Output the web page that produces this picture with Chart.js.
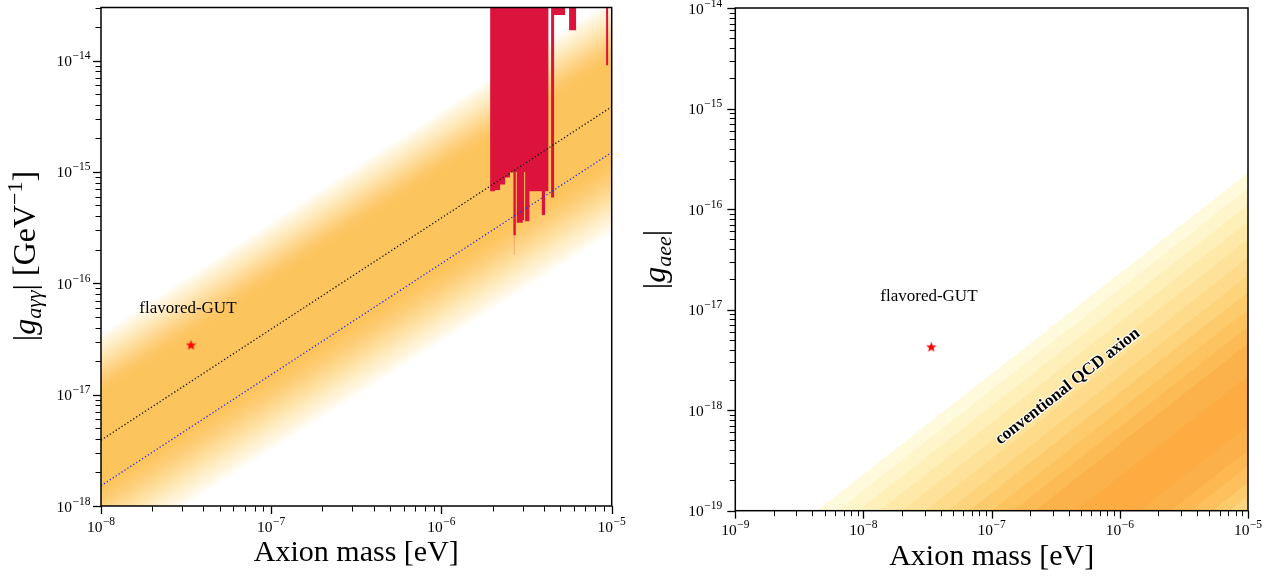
<!DOCTYPE html>
<html>
<head>
<meta charset="utf-8">
<script src="https://cdn.jsdelivr.net/npm/chart.js@4.4.1/dist/chart.umd.min.js"></script>
<style>
  html, body { margin: 0; padding: 0; background: #fff; }
  #wrap { position: relative; width: 1285px; height: 577px; overflow: hidden; }
  #photon { position: absolute; left: 0; top: 0; }
  #electron { position: absolute; left: 640px; top: 0; }
</style>
</head>
<body>
<div id="wrap">
  <canvas id="photon" width="640" height="577"></canvas>
  <canvas id="electron" width="645" height="577"></canvas>
</div>
<script>
// ---------------- photon coupling panel ----------------
const photonMassRange = [1e-8, 1e-5];
const photonCouplingRange = [1e-18, 3e-14];
const photonMassTicks = [1e-8, 1e-7, 1e-6, 1e-5];
const photonMassTickLabels = ['10^-8', '10^-7', '10^-6', '10^-5'];
const photonCouplingTicks = [1e-18, 1e-17, 1e-16, 1e-15, 1e-14];
const photonCouplingTickLabels = ['10^-18', '10^-17', '10^-16', '10^-15', '10^-14'];

// QCD axion band (couplings at 1e-8 eV and 1e-5 eV): outer and inner edges of each soft side
const photonBandMasses = [1e-8, 1e-5];
const photonUpperOuter = [3.6e-17, 3.6e-14];
const photonUpperInner = [1.0e-17, 1.0e-14];
const photonLowerInner = [1.5e-18, 1.25e-15];
const photonLowerOuter = [3.3e-19, 2.8e-16];
const photonUpperStops = ['#FFFFFF', '#FFF7E3', '#FFF0CE', '#FEE8B8', '#FEDFA2', '#FED68C', '#FDCD77', '#FDC767', '#FCC45C'];
const photonLowerStops = ['#FCC45C', '#FDC867', '#FDCD76', '#FDD486', '#FEDC98', '#FEE4AB', '#FEEBBF', '#FFF2D3', '#FFF8E6', '#FFFFFF'];

// benchmark lines (coupling at 1e-8 eV and 1e-5 eV)
const blackLineCoupling = [3.9e-18, 3.85e-15];
const blueLineCoupling = [1.52e-18, 1.5e-15];

// haloscope exclusion: lower edge of the excluded region, each value holds until the next mass
const NONE = 1e-12;
const exclusionMass = [
  1.930e-6, 2.065e-6, 2.210e-6, 2.365e-6, 2.530e-6, 2.646e-6, 2.733e-6, 2.770e-6,
  3.004e-6, 3.058e-6, 3.100e-6, 3.285e-6, 3.885e-6, 4.062e-6, 4.247e-6, 4.406e-6,
  4.588e-6, 5.323e-6, 5.619e-6, 6.178e-6, 9.271e-6, 9.526e-6, 1e-5
];
const exclusionFloor = [
  6.7e-16, 6.9e-16, 7.7e-16, 8.9e-16, 1.0e-15, 2.7e-16, 1.0e-15, 3.5e-16,
  3.7e-16, 1.0e-15, 3.6e-16, 6.7e-16, 4.1e-16, 6.7e-16, NONE, 5.9e-16,
  2.57e-14, NONE, 1.87e-14, NONE, 9.1e-15, NONE, NONE
];
// faint tail below the deepest scan
const tailMass = [2.646e-6, 2.700e-6, 1e-5];
const tailFloor = [1.8e-16, NONE, NONE];

// flavored-GUT benchmark
const gutMass = 3.38e-8;
const gutPhotonCoupling = 2.8e-17;
const gutElectronCoupling = 4.27e-18;

// ---------------- electron coupling panel ----------------
const electronMassRange = [1e-9, 1e-5];
const electronCouplingRange = [1e-19, 1e-14];
const electronMassTicks = [1e-9, 1e-8, 1e-7, 1e-6, 1e-5];
const electronMassTickLabels = ['10^-9', '10^-8', '10^-7', '10^-6', '10^-5'];
const electronCouplingTicks = [1e-19, 1e-18, 1e-17, 1e-16, 1e-15, 1e-14];
const electronCouplingTickLabels = ['10^-19', '10^-18', '10^-17', '10^-16', '10^-15', '10^-14'];

// contour levels of the band (couplings at 1e-9 eV and 1e-5 eV), top to bottom
const electronBandMasses = [1e-9, 1e-5];
const electronBandEdges = [
  [2.3e-20, 2.3e-16], [1.6e-20, 1.6e-16], [1.1e-20, 1.1e-16], [7.5e-21, 7.5e-17],
  [5.0e-21, 5.0e-17], [3.3e-21, 3.3e-17], [2.2e-21, 2.2e-17], [1.5e-21, 1.5e-17],
  [1.0e-21, 1.0e-17], [6.8e-22, 6.8e-18], [4.6e-22, 4.6e-18], [2.2e-22, 2.2e-18],
  [7.0e-23, 7.0e-19], [4.0e-23, 4.0e-19], [2.8e-23, 2.8e-19], [1.9e-23, 1.9e-19],
  [1.4e-23, 1.4e-19], [1.05e-23, 1.05e-19], [7.5e-24, 7.5e-20], [5.0e-24, 5.0e-20]
];
const electronBandColors = [
  '#FFFADB', '#FFF5CA', '#FFEFB8', '#FEE9A8',
  '#FEE299', '#FEDB8A', '#FDD37B', '#FDCB6C',
  '#FDC35F', '#FDBB55', '#FCB24A', '#FCAC40',
  '#FCB049', '#FDB852', '#FDC05C', '#FDCA6C',
  '#FED47E', '#FEDB8E', '#FEE3A0', '#FFFFFF'
];

// ---------------- styling ----------------
const SERIF = "'Liberation Serif', 'DejaVu Serif', serif";

function starImage(size, color) {
  const c = document.createElement('canvas');
  c.width = c.height = size;
  const g = c.getContext('2d');
  g.fillStyle = color;
  g.beginPath();
  for (let i = 0; i < 10; i++) {
    const r = i % 2 ? size * 0.21 : size * 0.5;
    const a = -Math.PI / 2 + i * Math.PI / 5;
    g.lineTo(size / 2 + r * Math.cos(a), size / 2 + r * Math.sin(a) + size * 0.05);
  }
  g.closePath();
  g.fill();
  return c;
}
const STAR = starImage(11, '#FF0000');

function logTicks(majors, min, max) {
  const out = [];
  majors.forEach(v => {
    for (let k = 1; k <= 9; k++) {
      const t = v * k;
      if (t >= min * (1 - 1e-9) && t <= max * (1 + 1e-9)) out.push({ value: t, major: k === 1 });
    }
  });
  return out;
}

function logAxis(range, majors, labels, opts) {
  return {
    type: 'logarithmic',
    min: range[0],
    max: range[1],
    grid: { display: false },
    border: { display: false },
    ticks: { display: false, autoSkip: false },
    tickText: { majors, labels },
    title: opts.title ? {
      display: true, text: opts.title, color: '#000',
      font: { family: SERIF, size: 30 }, padding: { top: 0, bottom: opts.titlePad }
    } : { display: false },
    afterBuildTicks: scale => { scale.ticks = logTicks(majors, range[0], range[1]); },
    afterFit: scale => {
      if (opts.width !== undefined) scale.width = opts.width;
      if (opts.height !== undefined) scale.height = opts.height;
      scale.paddingTop = scale.paddingBottom = scale.paddingLeft = scale.paddingRight = 0;
    }
  };
}

function bandDatasets(masses, edges, colors) {
  // each edge is filled downwards with its colour; later (lower) edges paint over earlier ones
  return edges.map((e, i) => ({
    data: [{ x: masses[0], y: e[0] }, { x: masses[1], y: e[1] }],
    fill: 'start',
    backgroundColor: colors[i],
    borderColor: 'rgba(0,0,0,0)',
    borderWidth: 0,
    pointRadius: 0,
    order: 100 - i
  }));
}

// gradient running across the band, from the line `from` to the line `to`
function crossGradient(masses, from, to, stops) {
  return context => {
    const chart = context.chart;
    const xs = chart.scales.x, ys = chart.scales.y;
    if (!chart.chartArea || !xs || !ys) return stops[stops.length - 1];
    const ax = xs.getPixelForValue(masses[0]), ay = ys.getPixelForValue(from[0]);
    const bx = xs.getPixelForValue(masses[1]), by = ys.getPixelForValue(from[1]);
    const len = Math.hypot(bx - ax, by - ay);
    const nx = -(by - ay) / len, ny = (bx - ax) / len;
    const qy = ys.getPixelForValue(to[0]);
    const dist = (qy - ay) * ny;
    const g = chart.ctx.createLinearGradient(ax, ay, ax + nx * dist, ay + ny * dist);
    stops.forEach((c, i) => g.addColorStop(i / (stops.length - 1), c));
    return g;
  };
}

function softEdge(masses, from, to, stops, order) {
  return {
    data: [{ x: masses[0], y: from[0] }, { x: masses[1], y: from[1] }],
    fill: 'start',
    backgroundColor: crossGradient(masses, from, to, stops),
    borderColor: 'rgba(0,0,0,0)',
    borderWidth: 0,
    pointRadius: 0,
    order
  };
}

// "10^-n" drawn as base and raised exponent
function drawPower(ctx, label, x, y, align) {
  const [base, exp] = label.split('^');
  const expText = exp.replace('-', '−');
  ctx.font = `15.5px ${SERIF}`;
  const wb = ctx.measureText(base).width;
  ctx.font = `11.5px ${SERIF}`;
  const we = ctx.measureText(expText).width;
  const total = wb + we + 0.5;
  const x0 = align === 'center' ? x - total / 2 : x - total;
  ctx.textAlign = 'left';
  ctx.textBaseline = 'alphabetic';
  ctx.font = `15.5px ${SERIF}`;
  ctx.fillText(base, x0, y);
  ctx.font = `11.5px ${SERIF}`;
  ctx.fillText(expText, x0 + wb + 0.5, y - 7);
}

// frame, outward tick marks and tick labels
function axesDecor(xLabelDrop, yLabelGap) {
  return {
    id: 'axesDecor',
    afterDraw(chart) {
      const { ctx, chartArea: a, scales } = chart;
      ctx.save();
      ctx.strokeStyle = '#000';
      ctx.fillStyle = '#000';
      scales.x.ticks.forEach(t => {
        const px = Math.round(scales.x.getPixelForValue(t.value)) + 0.5;
        ctx.lineWidth = t.major ? 1.3 : 1;
        ctx.beginPath();
        ctx.moveTo(px, a.bottom);
        ctx.lineTo(px, a.bottom + (t.major ? 8 : 5.5));
        ctx.stroke();
      });
      scales.y.ticks.forEach(t => {
        const py = Math.round(scales.y.getPixelForValue(t.value)) + 0.5;
        ctx.lineWidth = t.major ? 1.3 : 1;
        ctx.beginPath();
        ctx.moveTo(a.left, py);
        ctx.lineTo(a.left - (t.major ? 8 : 5.5), py);
        ctx.stroke();
      });
      const xt = scales.x.options.tickText, yt = scales.y.options.tickText;
      xt.majors.forEach((v, i) => {
        drawPower(ctx, xt.labels[i], scales.x.getPixelForValue(v), a.bottom + xLabelDrop, 'center');
      });
      yt.majors.forEach((v, i) => {
        drawPower(ctx, yt.labels[i], a.left - yLabelGap, scales.y.getPixelForValue(v) + 5.5, 'right');
      });
      ctx.lineWidth = 1.5;
      ctx.strokeRect(a.left, a.top, a.right - a.left, a.bottom - a.top);
      ctx.restore();
    }
  };
}

// vertical axis title with sub- and superscripts
function richYTitle(parts, x, y) {
  return {
    id: 'richYTitle',
    afterDraw(chart) {
      const ctx = chart.ctx;
      ctx.save();
      ctx.fillStyle = '#000';
      ctx.textBaseline = 'alphabetic';
      ctx.textAlign = 'left';
      const widths = parts.map(p => { ctx.font = p.font; return ctx.measureText(p.text).width; });
      const total = widths.reduce((s, w) => s + w, 0);
      ctx.translate(x, y);
      ctx.rotate(-Math.PI / 2);
      let cx = -total / 2;
      parts.forEach((p, i) => {
        ctx.font = p.font;
        ctx.fillText(p.text, cx, p.dy || 0);
        cx += widths[i];
      });
      ctx.restore();
    }
  };
}

// text notes placed in data coordinates
function notes(items) {
  return {
    id: 'notes',
    afterDatasetsDraw(chart) {
      const { ctx, scales } = chart;
      items.forEach(n => {
        const px = scales.x.getPixelForValue(n.mass);
        const py = scales.y.getPixelForValue(n.coupling);
        ctx.save();
        ctx.translate(px, py);
        if (n.alongBand) {
          // tilt along a g ∝ m line
          const x2 = scales.x.getPixelForValue(n.mass * 10), y2 = scales.y.getPixelForValue(n.coupling * 10);
          ctx.rotate(Math.atan2(y2 - py, x2 - px));
        }
        ctx.font = n.font;
        ctx.textAlign = 'center';
        ctx.textBaseline = n.baseline || 'alphabetic';
        if (n.halo) {
          ctx.lineJoin = 'round';
          ctx.lineWidth = 2.5;
          ctx.strokeStyle = 'rgba(255,255,255,0.85)';
          ctx.strokeText(n.text, 0, 0);
        }
        ctx.fillStyle = '#000';
        ctx.fillText(n.text, 0, 0);
        ctx.restore();
      });
    }
  };
}

const baseOptions = (padding, scales) => ({
  responsive: false,
  animation: false,
  devicePixelRatio: 1,
  events: [],
  layout: { padding },
  plugins: { legend: { display: false }, tooltip: { enabled: false } },
  scales
});

// ---------------- photon chart ----------------
new Chart(document.getElementById('photon'), {
  type: 'line',
  data: {
    datasets: [
      {
        data: [{ x: gutMass, y: gutPhotonCoupling }],
        showLine: false, pointStyle: STAR, pointRadius: 6, order: 0
      },
      {
        data: [{ x: photonBandMasses[0], y: blackLineCoupling[0] }, { x: photonBandMasses[1], y: blackLineCoupling[1] }],
        borderColor: '#111', borderWidth: 1.3, borderDash: [1.3, 2.2], pointRadius: 0, fill: false, order: 1
      },
      {
        data: [{ x: photonBandMasses[0], y: blueLineCoupling[0] }, { x: photonBandMasses[1], y: blueLineCoupling[1] }],
        borderColor: '#2B2BFF', borderWidth: 1.3, borderDash: [1.3, 2.2], pointRadius: 0, fill: false, order: 1
      },
      {
        data: exclusionMass.map((m, i) => ({ x: m, y: exclusionFloor[i] })),
        stepped: 'before', fill: 'end', backgroundColor: '#DC143C',
        borderColor: 'rgba(0,0,0,0)', borderWidth: 0, pointRadius: 0, order: 2
      },
      {
        data: tailMass.map((m, i) => ({ x: m, y: tailFloor[i] })),
        stepped: 'before', fill: 'end', backgroundColor: 'rgba(220,20,60,0.18)',
        borderColor: 'rgba(0,0,0,0)', borderWidth: 0, pointRadius: 0, order: 3
      },
      softEdge(photonBandMasses, photonUpperOuter, photonUpperInner, photonUpperStops, 101),
      softEdge(photonBandMasses, photonLowerInner, photonLowerOuter, photonLowerStops, 100)
    ]
  },
  options: baseOptions({ left: 0, right: 28.3, top: 7.5, bottom: 0 }, {
    x: logAxis(photonMassRange, photonMassTicks, photonMassTickLabels,
      { height: 71, title: 'Axion mass [eV]', titlePad: 6 }),
    y: logAxis(photonCouplingRange, photonCouplingTicks, photonCouplingTickLabels,
      { width: 101 })
  }),
  plugins: [
    axesDecor(26, 10.5),
    richYTitle([
      { text: '|', font: `32px ${SERIF}` },
      { text: 'g', font: `italic 32px ${SERIF}` },
      { text: 'aγγ', font: `italic 22px ${SERIF}`, dy: 6 },
      { text: '|', font: `32px ${SERIF}` },
      { text: ' [GeV', font: `32px ${SERIF}` },
      { text: '−1', font: `22px ${SERIF}`, dy: -13 },
      { text: ']', font: `32px ${SERIF}` }
    ], 35, 256),
    notes([
      { text: 'flavored-GUT', mass: 3.24e-8, coupling: 5.45e-17, font: `17px ${SERIF}` }
    ])
  ]
});

// ---------------- electron chart ----------------
new Chart(document.getElementById('electron'), {
  type: 'line',
  data: {
    datasets: [
      {
        data: [{ x: gutMass, y: gutElectronCoupling }],
        showLine: false, pointStyle: STAR, pointRadius: 6, order: 0
      },
      ...bandDatasets(electronBandMasses, electronBandEdges, electronBandColors)
    ]
  },
  options: baseOptions({ left: 0, right: 37, top: 8, bottom: 0 }, {
    x: logAxis(electronMassRange, electronMassTicks, electronMassTickLabels,
      { height: 66.3, title: 'Axion mass [eV]', titlePad: 2 }),
    y: logAxis(electronCouplingRange, electronCouplingTicks, electronCouplingTickLabels,
      { width: 95.3 })
  }),
  plugins: [
    axesDecor(24.5, 13),
    richYTitle([
      { text: '|', font: `32px ${SERIF}` },
      { text: 'g', font: `italic 32px ${SERIF}` },
      { text: 'aee', font: `italic 22px ${SERIF}`, dy: 6 },
      { text: '|', font: `32px ${SERIF}` }
    ], 25, 259.5),
    notes([
      { text: 'flavored-GUT', mass: 3.24e-8, coupling: 1.22e-17, font: `17px ${SERIF}` },
      { text: 'conventional QCD axion', mass: 3.92e-7, coupling: 1.72e-18,
        font: `bold 17px ${SERIF}`, baseline: 'middle', alongBand: true, halo: true }
    ])
  ]
});
</script>
</body>
</html>
